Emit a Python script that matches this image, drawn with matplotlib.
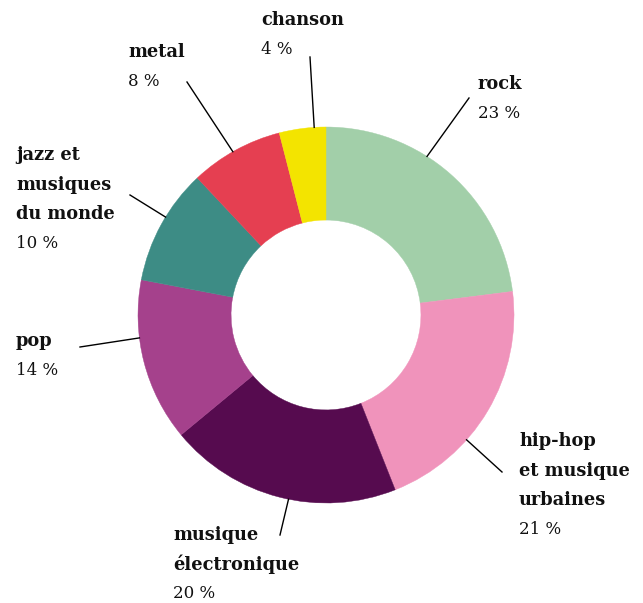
import matplotlib
matplotlib.use("Agg")
import matplotlib.pyplot as plt
import numpy as np

categories = ["rock", "hip-hop\net musique\nurbaines", "musique\nélectronique", "pop",
              "jazz et\nmusiques\ndu monde", "metal", "chanson"]
values = [23, 21, 20, 14, 10, 8, 4]
colors = ["#a2cfa9", "#f093bb", "#560b4f", "#a5418c", "#3d8c85", "#e53f51", "#f3e400"]

# layout (pixel coords of label top-left line centers, leader line starts, leader angles)
label_xy = [(478, 84), (519, 441), (173, 535), (16, 341), (16, 155), (128, 52), (261, 20)]
line_start = [(469, 98), (502, 472), (280, 535), (80, 347), (130, 195), (187, 82), (310, 57)]
leader_angle = [57.5, 318.4, 258.5, 187.0, 148.6, 119.7, 93.6]

W, H = 643, 603
fig = plt.figure(figsize=(W / 100, H / 100), dpi=100)
ax = fig.add_axes([0, 0, 1, 1])
cx, cy = 326, H - 315
R = 188

wedges, _ = ax.pie(values, colors=colors, startangle=90, counterclock=False, radius=R,
                   center=(cx, cy), wedgeprops=dict(width=R * 0.495, linewidth=0))
for w, c in zip(wedges, colors):
    w.set_edgecolor(c)
    w.set_linewidth(0.3)
ax.set_xlim(0, W)
ax.set_ylim(0, H)
ax.set_aspect("equal")
ax.axis("off")

lh = 29.5
for cat, v, (lx, ly), (sx, sy), ang in zip(categories, values, label_xy, line_start, leader_angle):
    lines = cat.split("\n")
    for i, t in enumerate(lines):
        ax.text(lx, H - (ly + i * lh), t, fontsize=12.8, fontweight="bold", family="DejaVu Serif",
                ha="left", va="center", color="#111111")
    ax.text(lx, H - (ly + len(lines) * lh), f"{v} %", fontsize=12, family="DejaVu Serif",
            ha="left", va="center", color="#111111")
    a = np.deg2rad(ang)
    ex, ey = cx + R * np.cos(a), cy + R * np.sin(a)
    ax.plot([sx, ex], [H - sy, ey], color="black", lw=1.0)

fig.savefig("out.png", dpi=100)
